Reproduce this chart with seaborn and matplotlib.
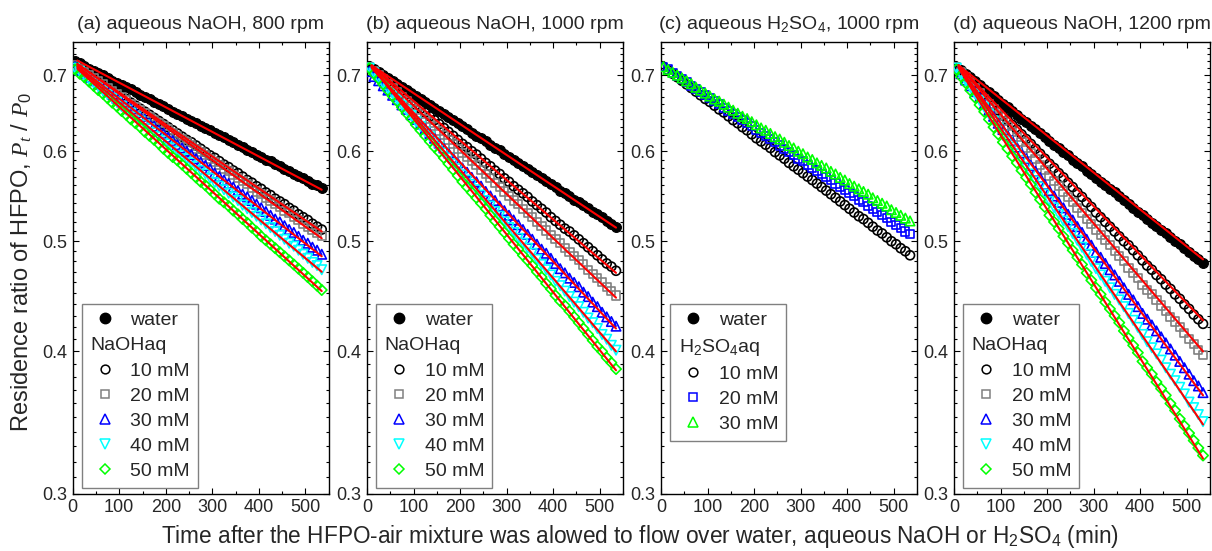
import numpy as np
import pandas as pd
import matplotlib
matplotlib.use("Agg")
import matplotlib.pyplot as plt
import seaborn as sns
from matplotlib.lines import Line2D
from matplotlib.ticker import FixedLocator, FixedFormatter, NullFormatter, MultipleLocator
from matplotlib.offsetbox import TextArea
from matplotlib.transforms import Bbox

# ---------------- data ----------------
time = np.arange(5, 536, 10)   # sampling times (min), 54 points

# (a) aqueous NaOH, 800 rpm
water_a = [0.720, 0.717, 0.713, 0.709, 0.706, 0.703, 0.700, 0.696, 0.692, 0.689,
           0.686, 0.683, 0.680, 0.676, 0.673, 0.670, 0.667, 0.663, 0.660, 0.657,
           0.654, 0.650, 0.647, 0.644, 0.641, 0.638, 0.635, 0.632, 0.629, 0.626,
           0.623, 0.620, 0.617, 0.614, 0.611, 0.608, 0.605, 0.602, 0.599, 0.596,
           0.593, 0.590, 0.588, 0.585, 0.582, 0.579, 0.576, 0.573, 0.571, 0.568,
           0.565, 0.562, 0.560, 0.557]
naoh10_a = [0.714, 0.710, 0.705, 0.701, 0.697, 0.692, 0.688, 0.684, 0.679, 0.675,
            0.671, 0.667, 0.662, 0.658, 0.654, 0.650, 0.646, 0.642, 0.638, 0.634,
            0.630, 0.626, 0.622, 0.618, 0.614, 0.611, 0.607, 0.603, 0.599, 0.595,
            0.592, 0.588, 0.584, 0.581, 0.577, 0.574, 0.570, 0.566, 0.563, 0.559,
            0.556, 0.552, 0.549, 0.545, 0.542, 0.539, 0.535, 0.532, 0.528, 0.525,
            0.522, 0.518, 0.515, 0.512]
naoh20_a = [0.714, 0.709, 0.705, 0.700, 0.696, 0.691, 0.687, 0.682, 0.678, 0.673,
            0.669, 0.665, 0.660, 0.656, 0.652, 0.648, 0.643, 0.639, 0.635, 0.631,
            0.627, 0.623, 0.619, 0.615, 0.611, 0.607, 0.603, 0.599, 0.595, 0.591,
            0.587, 0.583, 0.579, 0.576, 0.572, 0.568, 0.565, 0.561, 0.557, 0.553,
            0.550, 0.546, 0.543, 0.539, 0.536, 0.532, 0.529, 0.525, 0.522, 0.518,
            0.515, 0.512, 0.508, 0.505]
naoh30_a = [0.712, 0.707, 0.702, 0.697, 0.692, 0.687, 0.682, 0.678, 0.673, 0.668,
            0.663, 0.658, 0.654, 0.649, 0.644, 0.640, 0.635, 0.631, 0.626, 0.622,
            0.617, 0.613, 0.608, 0.604, 0.600, 0.596, 0.591, 0.587, 0.583, 0.579,
            0.574, 0.570, 0.566, 0.562, 0.558, 0.554, 0.550, 0.547, 0.543, 0.539,
            0.535, 0.531, 0.527, 0.523, 0.520, 0.516, 0.512, 0.509, 0.505, 0.501,
            0.498, 0.494, 0.491, 0.487]
naoh40_a = [0.710, 0.705, 0.699, 0.694, 0.689, 0.684, 0.678, 0.673, 0.668, 0.663,
            0.657, 0.652, 0.648, 0.643, 0.638, 0.633, 0.628, 0.623, 0.618, 0.613,
            0.609, 0.604, 0.600, 0.595, 0.591, 0.586, 0.582, 0.577, 0.573, 0.568,
            0.563, 0.559, 0.555, 0.551, 0.547, 0.543, 0.538, 0.534, 0.530, 0.526,
            0.522, 0.518, 0.514, 0.510, 0.506, 0.502, 0.498, 0.495, 0.491, 0.487,
            0.483, 0.479, 0.476, 0.472]
naoh50_a = [0.708, 0.702, 0.697, 0.691, 0.685, 0.679, 0.674, 0.668, 0.662, 0.657,
            0.651, 0.646, 0.640, 0.635, 0.630, 0.624, 0.619, 0.614, 0.609, 0.603,
            0.598, 0.593, 0.589, 0.584, 0.579, 0.574, 0.569, 0.564, 0.560, 0.555,
            0.550, 0.545, 0.541, 0.537, 0.532, 0.528, 0.523, 0.519, 0.514, 0.510,
            0.505, 0.501, 0.497, 0.493, 0.489, 0.485, 0.481, 0.477, 0.473, 0.469,
            0.465, 0.461, 0.457, 0.453]

# (b) aqueous NaOH, 1000 rpm
water_b = [0.713, 0.709, 0.705, 0.700, 0.696, 0.692, 0.688, 0.683, 0.679, 0.675,
           0.671, 0.667, 0.663, 0.659, 0.655, 0.651, 0.647, 0.643, 0.639, 0.635,
           0.631, 0.627, 0.623, 0.619, 0.616, 0.612, 0.608, 0.604, 0.601, 0.597,
           0.593, 0.590, 0.586, 0.582, 0.579, 0.575, 0.572, 0.568, 0.565, 0.561,
           0.558, 0.554, 0.551, 0.548, 0.544, 0.541, 0.538, 0.535, 0.531, 0.528,
           0.525, 0.521, 0.518, 0.515]
naoh10_b = [0.712, 0.707, 0.701, 0.696, 0.691, 0.685, 0.680, 0.675, 0.669, 0.664,
            0.659, 0.654, 0.649, 0.644, 0.639, 0.634, 0.629, 0.624, 0.619, 0.614,
            0.609, 0.605, 0.600, 0.596, 0.591, 0.586, 0.582, 0.577, 0.573, 0.568,
            0.564, 0.559, 0.555, 0.551, 0.547, 0.542, 0.538, 0.534, 0.530, 0.525,
            0.521, 0.517, 0.513, 0.510, 0.506, 0.502, 0.498, 0.494, 0.490, 0.486,
            0.482, 0.478, 0.475, 0.471]
naoh20_b = [0.712, 0.706, 0.700, 0.694, 0.688, 0.682, 0.676, 0.670, 0.664, 0.658,
            0.652, 0.647, 0.641, 0.636, 0.631, 0.625, 0.620, 0.614, 0.609, 0.603,
            0.598, 0.593, 0.588, 0.583, 0.578, 0.573, 0.568, 0.563, 0.558, 0.553,
            0.548, 0.543, 0.539, 0.534, 0.529, 0.525, 0.520, 0.516, 0.511, 0.506,
            0.502, 0.498, 0.493, 0.489, 0.485, 0.481, 0.477, 0.472, 0.468, 0.464,
            0.460, 0.456, 0.452, 0.448]
naoh30_b = [0.705, 0.698, 0.692, 0.685, 0.679, 0.672, 0.666, 0.659, 0.653, 0.646,
            0.640, 0.634, 0.628, 0.622, 0.616, 0.610, 0.604, 0.598, 0.592, 0.586,
            0.580, 0.575, 0.569, 0.564, 0.559, 0.553, 0.548, 0.543, 0.537, 0.532,
            0.527, 0.522, 0.517, 0.512, 0.507, 0.502, 0.497, 0.492, 0.488, 0.483,
            0.478, 0.473, 0.469, 0.464, 0.460, 0.456, 0.451, 0.447, 0.442, 0.438,
            0.433, 0.429, 0.425, 0.421]
naoh40_b = [0.710, 0.703, 0.695, 0.688, 0.681, 0.674, 0.666, 0.659, 0.652, 0.645,
            0.637, 0.631, 0.624, 0.618, 0.611, 0.605, 0.598, 0.592, 0.585, 0.579,
            0.572, 0.566, 0.561, 0.555, 0.549, 0.543, 0.537, 0.531, 0.526, 0.520,
            0.514, 0.509, 0.503, 0.498, 0.493, 0.488, 0.482, 0.477, 0.472, 0.467,
            0.461, 0.457, 0.452, 0.447, 0.442, 0.438, 0.433, 0.428, 0.424, 0.419,
            0.414, 0.410, 0.405, 0.401]
naoh50_b = [0.710, 0.702, 0.695, 0.687, 0.679, 0.671, 0.664, 0.656, 0.648, 0.641,
            0.633, 0.626, 0.619, 0.612, 0.605, 0.599, 0.592, 0.585, 0.578, 0.571,
            0.564, 0.558, 0.552, 0.546, 0.540, 0.534, 0.527, 0.521, 0.515, 0.509,
            0.503, 0.497, 0.492, 0.486, 0.481, 0.476, 0.470, 0.465, 0.459, 0.454,
            0.448, 0.443, 0.439, 0.434, 0.429, 0.424, 0.419, 0.414, 0.409, 0.404,
            0.400, 0.395, 0.391, 0.386]

# (c) aqueous H2SO4, 1000 rpm
h2so4_10_c = [0.712, 0.707, 0.702, 0.697, 0.692, 0.687, 0.682, 0.677, 0.672, 0.667,
              0.663, 0.658, 0.653, 0.649, 0.644, 0.639, 0.635, 0.630, 0.626, 0.621,
              0.616, 0.612, 0.608, 0.604, 0.599, 0.595, 0.591, 0.586, 0.582, 0.578,
              0.574, 0.570, 0.566, 0.562, 0.558, 0.554, 0.550, 0.546, 0.542, 0.538,
              0.534, 0.530, 0.526, 0.523, 0.519, 0.515, 0.511, 0.508, 0.504, 0.500,
              0.497, 0.493, 0.490, 0.486]
h2so4_20_c = [0.712, 0.708, 0.703, 0.699, 0.694, 0.690, 0.685, 0.681, 0.677, 0.672,
              0.668, 0.664, 0.660, 0.655, 0.651, 0.647, 0.643, 0.639, 0.635, 0.631,
              0.626, 0.622, 0.619, 0.615, 0.611, 0.607, 0.603, 0.599, 0.595, 0.591,
              0.588, 0.584, 0.580, 0.577, 0.573, 0.569, 0.566, 0.562, 0.558, 0.555,
              0.551, 0.548, 0.544, 0.541, 0.537, 0.534, 0.531, 0.527, 0.524, 0.520,
              0.517, 0.514, 0.510, 0.507]
h2so4_30_c = [0.712, 0.708, 0.704, 0.700, 0.696, 0.692, 0.688, 0.683, 0.679, 0.675,
              0.671, 0.667, 0.664, 0.660, 0.656, 0.652, 0.648, 0.644, 0.641, 0.637,
              0.633, 0.629, 0.626, 0.622, 0.618, 0.615, 0.611, 0.607, 0.604, 0.600,
              0.597, 0.593, 0.590, 0.586, 0.583, 0.580, 0.576, 0.573, 0.569, 0.566,
              0.562, 0.559, 0.556, 0.553, 0.550, 0.546, 0.543, 0.540, 0.537, 0.533,
              0.530, 0.527, 0.524, 0.521]

# (d) aqueous NaOH, 1200 rpm
water_d = [0.712, 0.707, 0.702, 0.697, 0.691, 0.686, 0.681, 0.676, 0.671, 0.666,
           0.660, 0.656, 0.651, 0.646, 0.641, 0.637, 0.632, 0.627, 0.622, 0.617,
           0.613, 0.608, 0.604, 0.599, 0.595, 0.590, 0.586, 0.582, 0.577, 0.573,
           0.568, 0.564, 0.560, 0.556, 0.552, 0.548, 0.544, 0.539, 0.535, 0.531,
           0.527, 0.523, 0.519, 0.516, 0.512, 0.508, 0.504, 0.500, 0.497, 0.493,
           0.489, 0.485, 0.482, 0.478]
naoh10_d = [0.712, 0.705, 0.699, 0.692, 0.685, 0.679, 0.672, 0.665, 0.659, 0.652,
            0.645, 0.639, 0.633, 0.627, 0.621, 0.615, 0.609, 0.603, 0.597, 0.591,
            0.585, 0.580, 0.574, 0.569, 0.563, 0.558, 0.552, 0.547, 0.541, 0.536,
            0.530, 0.525, 0.520, 0.515, 0.510, 0.505, 0.500, 0.496, 0.491, 0.486,
            0.481, 0.476, 0.472, 0.467, 0.463, 0.458, 0.454, 0.449, 0.445, 0.440,
            0.436, 0.431, 0.427, 0.423]
naoh20_d = [0.712, 0.705, 0.697, 0.690, 0.682, 0.675, 0.667, 0.660, 0.653, 0.645,
            0.638, 0.631, 0.624, 0.618, 0.611, 0.604, 0.598, 0.591, 0.584, 0.578,
            0.571, 0.565, 0.559, 0.553, 0.547, 0.541, 0.535, 0.529, 0.523, 0.518,
            0.512, 0.506, 0.501, 0.496, 0.490, 0.485, 0.480, 0.474, 0.469, 0.464,
            0.458, 0.453, 0.449, 0.444, 0.439, 0.434, 0.429, 0.425, 0.420, 0.415,
            0.410, 0.406, 0.401, 0.397]
naoh30_d = [0.710, 0.702, 0.693, 0.685, 0.677, 0.669, 0.660, 0.652, 0.644, 0.635,
            0.627, 0.620, 0.613, 0.605, 0.598, 0.591, 0.583, 0.576, 0.569, 0.561,
            0.554, 0.548, 0.541, 0.535, 0.528, 0.522, 0.515, 0.509, 0.502, 0.496,
            0.489, 0.484, 0.478, 0.472, 0.467, 0.461, 0.455, 0.449, 0.444, 0.438,
            0.432, 0.427, 0.422, 0.417, 0.412, 0.407, 0.402, 0.397, 0.392, 0.387,
            0.382, 0.377, 0.373, 0.368]
naoh40_d = [0.710, 0.701, 0.692, 0.683, 0.674, 0.665, 0.656, 0.647, 0.638, 0.629,
            0.620, 0.612, 0.605, 0.597, 0.589, 0.581, 0.573, 0.565, 0.558, 0.550,
            0.542, 0.535, 0.528, 0.521, 0.515, 0.508, 0.501, 0.494, 0.487, 0.480,
            0.473, 0.467, 0.461, 0.455, 0.449, 0.444, 0.438, 0.432, 0.426, 0.420,
            0.414, 0.408, 0.403, 0.398, 0.393, 0.387, 0.382, 0.377, 0.372, 0.367,
            0.361, 0.357, 0.352, 0.347]
naoh50_d = [0.708, 0.698, 0.689, 0.679, 0.669, 0.659, 0.650, 0.640, 0.630, 0.621,
            0.611, 0.603, 0.594, 0.586, 0.577, 0.569, 0.561, 0.552, 0.544, 0.536,
            0.527, 0.520, 0.513, 0.505, 0.498, 0.491, 0.484, 0.477, 0.469, 0.462,
            0.455, 0.449, 0.442, 0.436, 0.430, 0.424, 0.417, 0.411, 0.405, 0.399,
            0.392, 0.387, 0.382, 0.376, 0.371, 0.366, 0.360, 0.355, 0.349, 0.344,
            0.339, 0.334, 0.329, 0.324]

# first-order fit lines (red): value at start and end of fit range
fit_time = [10, 535]
fit_a_start = [0.721, 0.716, 0.716, 0.713, 0.711, 0.709]
fit_a_end = [0.555, 0.510, 0.503, 0.485, 0.470, 0.452]
fit_b_start = [0.714, 0.714, 0.713, 0.710, 0.712, 0.712]
fit_b_end = [0.514, 0.469, 0.446, 0.419, 0.400, 0.385]
fit_d_start = [0.714, 0.714, 0.714, 0.712, 0.712, 0.710]
fit_d_end = [0.482, 0.426, 0.400, 0.366, 0.345, 0.322]

titles = ["(a) aqueous NaOH, 800 rpm", "(b) aqueous NaOH, 1000 rpm",
          "(c) aqueous H$_2$SO$_4$, 1000 rpm", "(d) aqueous NaOH, 1200 rpm"]
conc_labels = ["10 mM", "20 mM", "30 mM", "40 mM", "50 mM"]
y_major = [0.3, 0.4, 0.5, 0.6, 0.7]
y_major_labels = ["0.3", "0.4", "0.5", "0.6", "0.7"]
x_major = [0, 100, 200, 300, 400, 500]

# ---------------- style ----------------
sns.set_theme(style="white")
plt.rcParams['font.family'] = ['Liberation Sans', 'DejaVu Sans']
plt.rcParams['mathtext.fontset'] = 'custom'
plt.rcParams['mathtext.rm'] = 'Liberation Sans'
plt.rcParams['mathtext.it'] = 'Liberation Serif:italic'
plt.rcParams['mathtext.default'] = 'regular'

tick_size = 13

NAOH_STYLE = [("o", "#000000", 42), ("s", "#808080", 34), ("^", "#0000ff", 46),
              ("v", "#00ffff", 46), ("D", "#00ff00", 28)]
H2SO4_STYLE = [("o", "#000000", 42), ("s", "#0000ff", 34), ("^", "#00ff00", 46)]

fig = plt.figure(figsize=(12.12, 5.51), dpi=100)
W, H = 1212.0, 551.0
lefts = [72.7, 367.0, 661.0, 954.0]
ax_w = 256.0
ax_top, ax_bot = 41.7, 493.5

panel_water = [water_a, water_b, None, water_d]
panel_series = [
    [naoh10_a, naoh20_a, naoh30_a, naoh40_a, naoh50_a],
    [naoh10_b, naoh20_b, naoh30_b, naoh40_b, naoh50_b],
    [h2so4_10_c, h2so4_20_c, h2so4_30_c],
    [naoh10_d, naoh20_d, naoh30_d, naoh40_d, naoh50_d],
]
panel_fits = [(fit_a_start, fit_a_end), (fit_b_start, fit_b_end), None,
              (fit_d_start, fit_d_end)]


def find_textarea(box, txt):
    for ch in box.get_children():
        if isinstance(ch, TextArea) and ch._text is txt:
            return ch
        if hasattr(ch, "get_children") and not isinstance(ch, matplotlib.text.Text):
            r = find_textarea(ch, txt)
            if r is not None:
                return r
    return None


for p in range(4):
    ax = fig.add_axes([lefts[p] / W, 1 - ax_bot / H, ax_w / W, (ax_bot - ax_top) / H])
    ax.set_facecolor("white")
    styles = H2SO4_STYLE if p == 2 else NAOH_STYLE

    if panel_water[p] is not None:
        sns.scatterplot(x=time, y=panel_water[p], marker="o", s=50, color="black",
                        edgecolor="black", linewidth=0.8, ax=ax, zorder=3)
    for vals, (m, c, s) in zip(panel_series[p], styles):
        sns.scatterplot(x=time, y=vals, marker=m, s=s, color=c, facecolor="none",
                        edgecolor=c, linewidth=1.2, ax=ax, zorder=3)
    if panel_fits[p] is not None:
        starts, ends = panel_fits[p]
        for y0, y1 in zip(starts, ends):
            sns.lineplot(x=fit_time, y=[y0, y1], color="#ff0000", linewidth=1.5,
                         ax=ax, zorder=4)

    ax.set_yscale("log")
    ax.set_ylim(0.3, 0.749)
    ax.set_xlim(0, 550)
    ax.yaxis.set_major_locator(FixedLocator(y_major))
    ax.yaxis.set_major_formatter(FixedFormatter(y_major_labels))
    ax.yaxis.set_minor_locator(FixedLocator([v / 100 for v in range(31, 75) if v % 10 != 0]))
    ax.yaxis.set_minor_formatter(NullFormatter())
    ax.xaxis.set_major_locator(FixedLocator(x_major))
    ax.xaxis.set_minor_locator(MultipleLocator(50))
    ax.tick_params(which="both", direction="in", top=True, right=True,
                   bottom=True, left=True, color="black", width=0.8)
    ax.tick_params(which="major", length=4.5, labelsize=tick_size, pad=4)
    ax.tick_params(which="minor", length=2.5)
    for sp in ax.spines.values():
        sp.set_color("black")
        sp.set_linewidth(1.0)
    ax.set_xlabel("")
    ax.set_ylabel("")
    ax.set_title(titles[p], fontsize=14, pad=9)

    # legend
    handles = [Line2D([], [], ls="none", marker="o", ms=7.5, mfc="black", mec="black")]
    labels = ["water"]
    handles.append(Line2D([], [], ls="none"))
    labels.append("H$_2$SO$_4$aq" if p == 2 else "NaOHaq")
    labs = conc_labels[:3] if p == 2 else conc_labels
    for lab, (m, c, s) in zip(labs, styles):
        ms = 7 if m in ("^", "v") else (5.5 if m == "D" else 6.3)
        handles.append(Line2D([], [], ls="none", marker=m, ms=ms, mfc="none", mec=c, mew=1.1))
        labels.append(lab)
    leg = ax.legend(handles, labels, loc="upper left", bbox_to_anchor=(0.035, 0.420),
                    borderaxespad=0, fontsize=14, frameon=True, fancybox=False,
                    edgecolor="#808080", handlelength=1.6, handletextpad=0.5,
                    borderpad=0.4, labelspacing=0.39, framealpha=1)
    leg.get_frame().set_linewidth(1.0)
    header = leg.get_texts()[1]
    header.set_x(-40)
    try:
        ta = find_textarea(leg._legend_box, header)
        if ta is not None:
            orig = ta.get_bbox

            def small_bbox(renderer, orig=orig):
                bb = orig(renderer)
                return Bbox.from_bounds(bb.x0, bb.y0, bb.width * 0.45, bb.height)
            ta.get_bbox = small_bbox
    except Exception:
        pass

fig.text(0.528, (H - 537) / H,
         "Time after the HFPO-air mixture was alowed to flow over water, aqueous NaOH or H$_2$SO$_4$ (min)",
         ha="center", va="center", fontsize=16.3)
fig.text(22 / W, 1 - 262 / H,
         r"Residence ratio of HFPO, $\mathit{P}_{\mathit{t}}$ / $\mathit{P}_{0}$",
         ha="center", va="center", rotation=90, fontsize=17)

fig.savefig("out.png", dpi=100, facecolor="white")
